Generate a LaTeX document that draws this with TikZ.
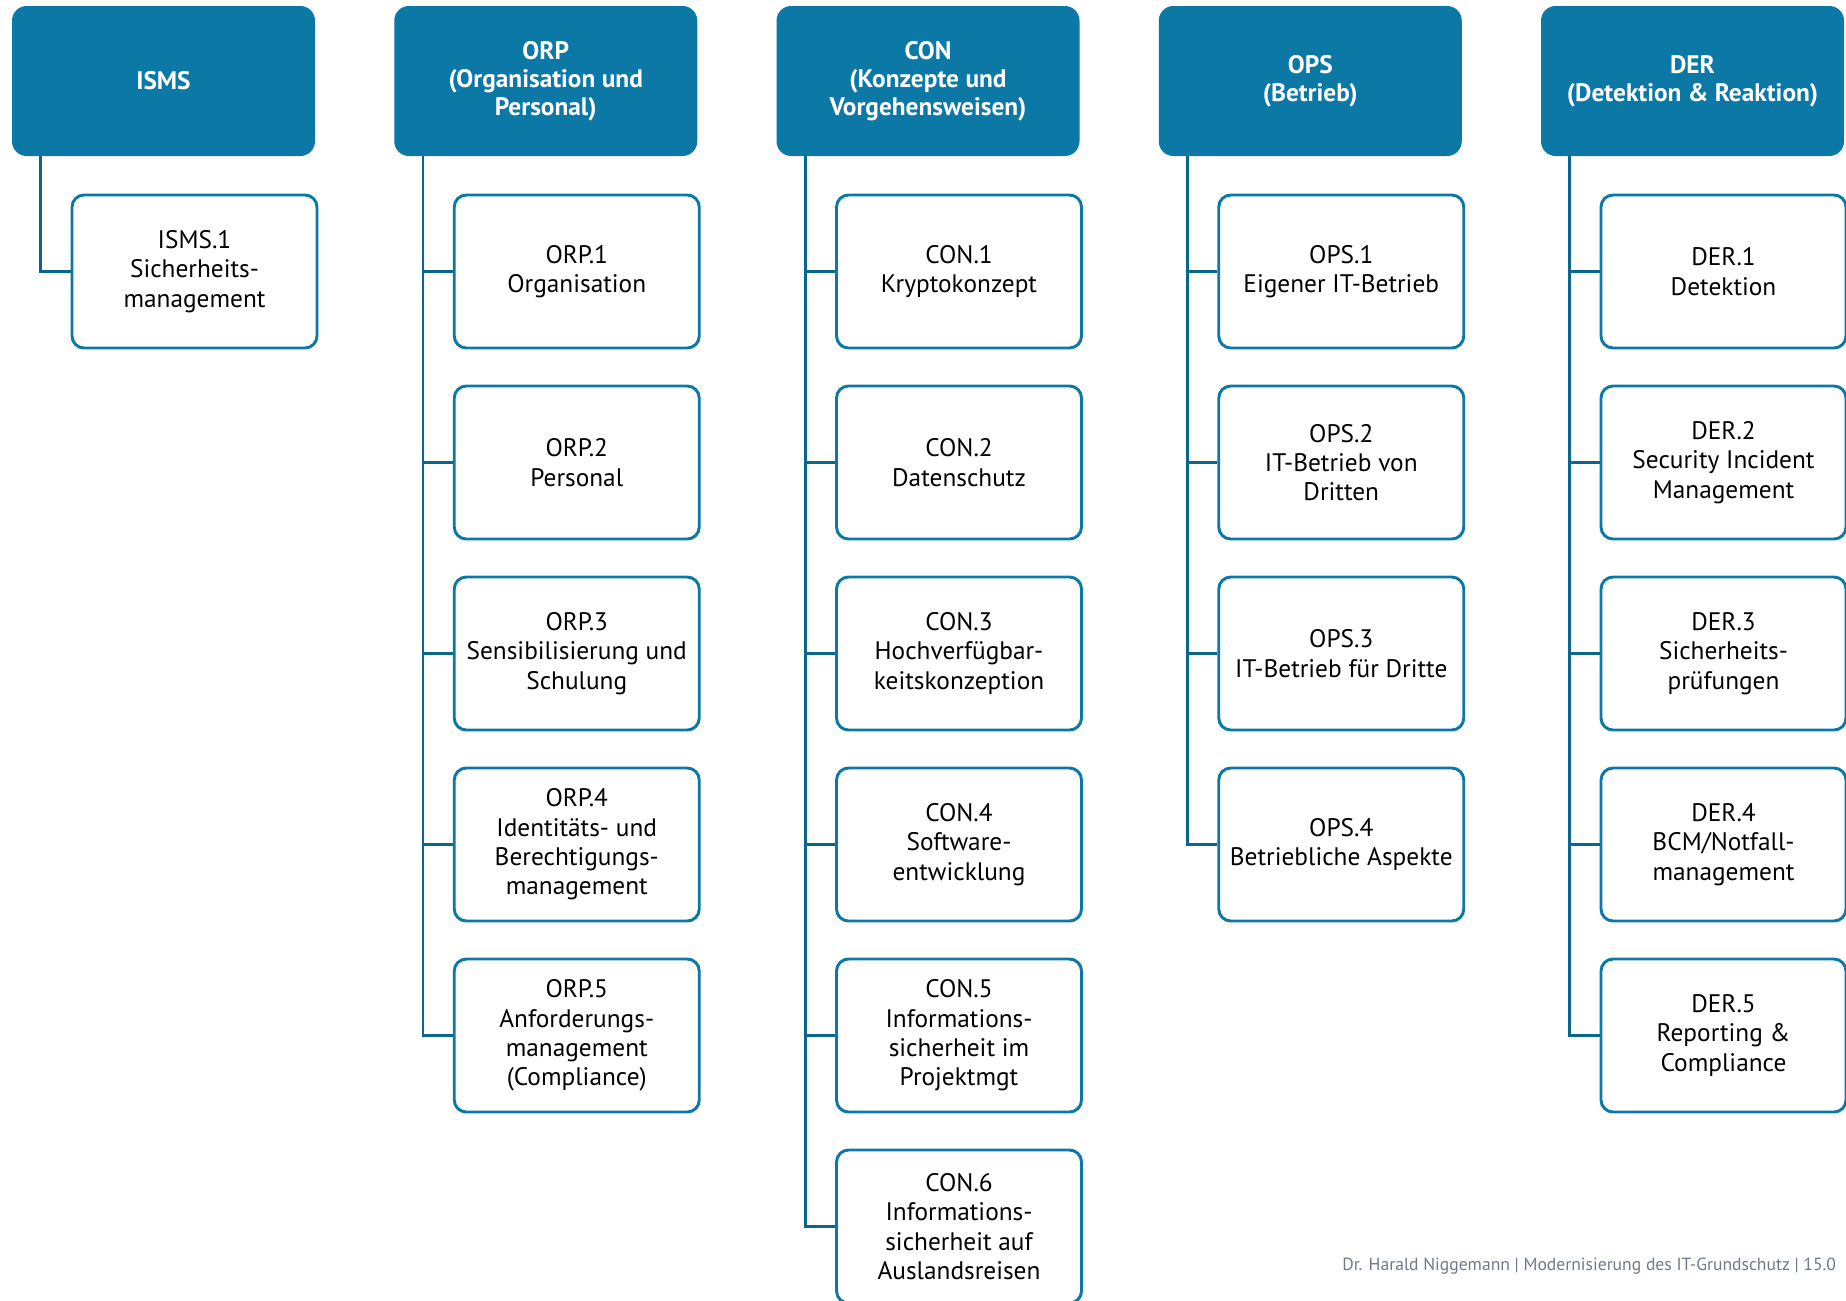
\documentclass[tikz,border=0pt]{standalone}
\usepackage{fontspec}
\setmainfont{PT Sans}
\definecolor{bsiblue}{RGB}{11,120,166}
\definecolor{footgrey}{RGB}{112,122,134}
\tikzset{
  modhead/.style={fill=bsiblue, rounded corners=11pt, minimum width=227.25pt, minimum height=112.5pt,
    text=white, font=\fontsize{19}{21}\selectfont\bfseries, align=center, inner sep=0pt},
  modbox/.style={draw=bsiblue, line width=2.2pt, fill=white, rounded corners=9pt, minimum width=183.75pt,
    minimum height=114.75pt, font=\fontsize{19}{22}\selectfont, align=center, inner sep=0pt},
  trunk/.style={draw=bsiblue!85!black, line width=2.2pt}
}
\begin{document}
\begin{tikzpicture}[x=0.75pt,y=0.75pt,yscale=-1,xscale=1]
\useasboundingbox (0,0) rectangle (1846,1300);
\clip (0,0) rectangle (1846,1300);

%Headers
	\node [modhead] (isms) at (163.5,81) {ISMS};
	\node [modhead] (orp) at (545.75,81) {ORP\\(Organisation und\\Personal)};
	\node [modhead] (con) at (928,81) {CON\\(Konzepte und\\Vorgehensweisen)};
	\node [modhead] (ops) at (1310.25,81) {OPS\\(Betrieb)};
	\node [modhead] (der) at (1692.5,81) {DER\\(Detektion \& Reaktion)};

%ISMS
	\node [modbox] (isms1) at (194.5,271.5) {ISMS.1\\Sicherheits-\\management};
%ORP
	\node [modbox] (orp1) at (576.75,271.5) {ORP.1\\Organisation};
	\node [modbox] (orp2) at (576.75,462.5) {ORP.2\\Personal};
	\node [modbox] (orp3) at (576.75,653.5) {ORP.3\\Sensibilisierung und\\Schulung};
	\node [modbox] (orp4) at (576.75,844.5) {ORP.4\\Identitäts- und\\Berechtigungs-\\management};
	\node [modbox] (orp5) at (576.75,1035.5) {ORP.5\\Anforderungs-\\management\\(Compliance)};
%CON
	\node [modbox] (con1) at (959,271.5) {CON.1\\Kryptokonzept};
	\node [modbox] (con2) at (959,462.5) {CON.2\\Datenschutz};
	\node [modbox] (con3) at (959,653.5) {CON.3\\Hochverfügbar-\\keitskonzeption};
	\node [modbox] (con4) at (959,844.5) {CON.4\\Software-\\entwicklung};
	\node [modbox] (con5) at (959,1035.5) {CON.5\\Informations-\\sicherheit im\\Projektmgt};
	\node [modbox] (con6) at (959,1226.5) {CON.6\\Informations-\\sicherheit auf\\Auslandsreisen};
%OPS
	\node [modbox] (ops1) at (1341.25,271.5) {OPS.1\\Eigener IT-Betrieb};
	\node [modbox] (ops2) at (1341.25,462.5) {OPS.2\\IT-Betrieb von\\Dritten};
	\node [modbox] (ops3) at (1341.25,653.5) {OPS.3\\IT-Betrieb für Dritte};
	\node [modbox] (ops4) at (1341.25,844.5) {OPS.4\\Betriebliche Aspekte};
%DER
	\node [modbox] (der1) at (1723.5,271.5) {DER.1\\Detektion};
	\node [modbox] (der2) at (1723.5,462.5) {DER.2\\Security Incident\\Management};
	\node [modbox] (der3) at (1723.5,653.5) {DER.3\\Sicherheits-\\prüfungen};
	\node [modbox] (der4) at (1723.5,844.5) {DER.4\\BCM/Notfall-\\management};
	\node [modbox] (der5) at (1723.5,1035.5) {DER.5\\Reporting \&\\Compliance};

%Trunk lines
	\coordinate (ismsT) at ([xshift=21.75pt]isms.south west);
	\coordinate (orpT) at ([xshift=21.75pt]orp.south west);
	\coordinate (conT) at ([xshift=21.75pt]con.south west);
	\coordinate (opsT) at ([xshift=21.75pt]ops.south west);
	\coordinate (derT) at ([xshift=21.75pt]der.south west);
	\draw [trunk] (ismsT) |- (isms1.west);
	\draw [trunk] (orpT) |- (orp5.west);
	\foreach \n in {1,...,4} \draw [trunk] (orpT |- orp\n.west) -- (orp\n.west);
	\draw [trunk] (conT) |- (con6.west);
	\foreach \n in {1,...,5} \draw [trunk] (conT |- con\n.west) -- (con\n.west);
	\draw [trunk] (opsT) |- (ops4.west);
	\foreach \n in {1,...,3} \draw [trunk] (opsT |- ops\n.west) -- (ops\n.west);
	\draw [trunk] (derT) |- (der5.west);
	\foreach \n in {1,...,4} \draw [trunk] (derT |- der\n.west) -- (der\n.west);

% Footer
	\node [anchor=base west, inner sep=0pt, text=footgrey, font=\fontsize{13.2}{15}\selectfont] (footer) at (1342,1270) {Dr. Harald Niggemann | Modernisierung des IT-Grundschutz | 15.0};

\end{tikzpicture}
\end{document}
